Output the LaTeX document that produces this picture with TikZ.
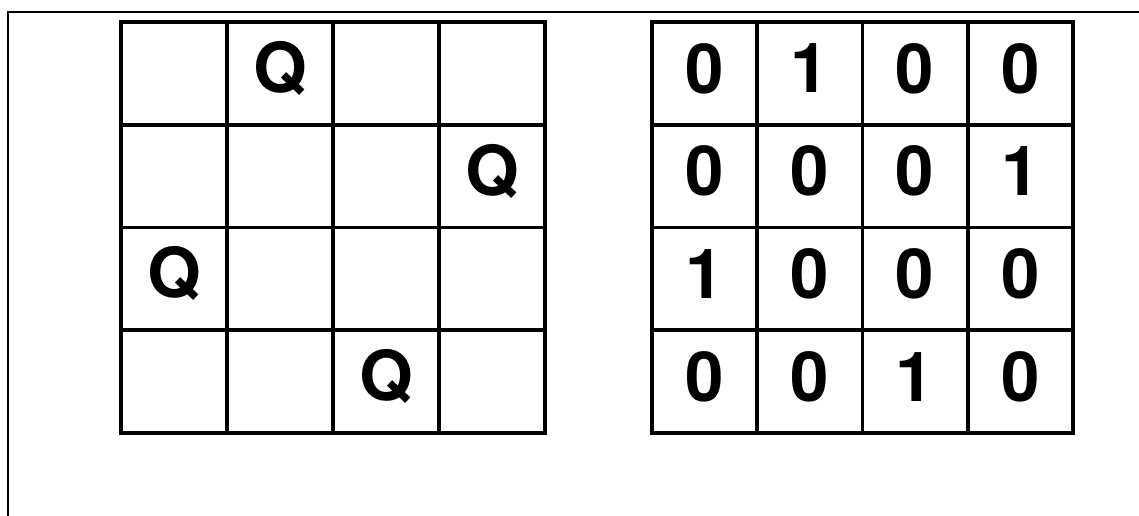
\documentclass[tikz,border=0pt]{standalone}
\usepackage{fontspec}
\setmainfont{TeX Gyre Heros}
\usepackage{tikz}
\usetikzlibrary{positioning}

\tikzset{
  pageframe/.style={line width=1.6pt},
  gridline/.style={line width=3.6pt, line cap=rect},
  entry/.style={font=\fontsize{69}{69}\selectfont\bfseries, inner sep=0pt, yshift=5pt},
}

\begin{document}
\begin{tikzpicture}[x=1pt, y=-1pt]
    \useasboundingbox (0,0) rectangle (1139,516);

    % Page frame (only top and left edges show)
    \draw[pageframe] (8,516) -- (8,12) -- (1139,12);

    % Chess board grid
    \foreach \i in {0,...,4} {
        \draw[gridline] (121+106*\i, 22) -- (121+106*\i, 433);
        \draw[gridline] (121, 22+102.75*\i) -- (545, 22+102.75*\i);
    }

    % Queens (row/column)
    \foreach \r/\c in {0/1, 1/3, 2/0, 3/2}
        \node[entry] (queen-\r) at (174+106*\c, 73.4+102.75*\r) {Q};

    % Matrix grid
    \foreach \i in {0,...,4} {
        \draw[gridline] (652+105.25*\i, 22) -- (652+105.25*\i, 433);
        \draw[gridline] (652, 22+102.75*\i) -- (1073, 22+102.75*\i);
    }

    % Matrix entries
    \foreach \row [count=\r from 0] in {{0,1,0,0},{0,0,0,1},{1,0,0,0},{0,0,1,0}}
        \foreach \val [count=\c from 0] in \row
            \node[entry] (cell-\r-\c) at (704.6+105.25*\c, 73.4+102.75*\r) {\val};
\end{tikzpicture}
\end{document}
